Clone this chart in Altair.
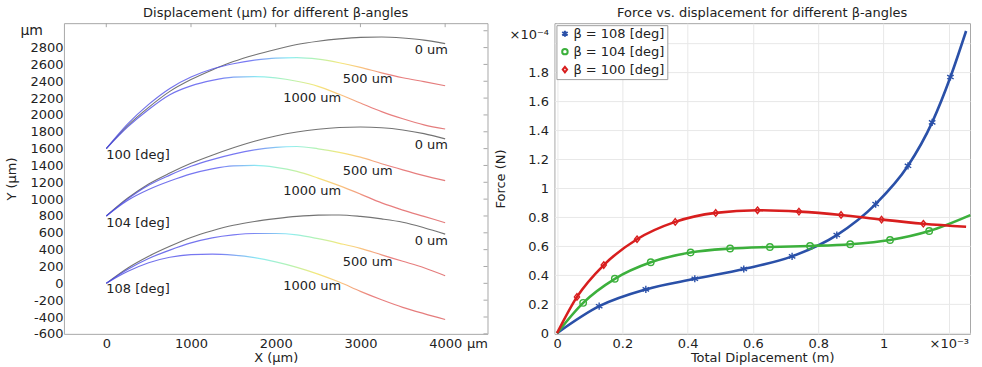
import altair as alt
import pandas as pd

FONT = "DejaVu Sans"
INK = "#222222"

# ---------------- Beam shapes (µm) for three beta angles and three displacements ----------------
X_UM = [0, 250, 500, 750, 1000, 1250, 1500, 1750, 2000, 2250, 2500, 2750, 3000, 3250, 3500, 3750, 4000]

B100_D0 = [1600, 1870, 2090, 2280, 2420, 2535, 2634, 2712, 2778, 2836, 2875, 2903, 2921, 2925, 2913, 2889, 2847]
B100_D500 = [1600, 1890, 2125, 2315, 2450, 2545, 2608, 2650, 2675, 2680, 2662, 2620, 2565, 2500, 2442, 2395, 2347]
B100_D1000 = [1600, 1855, 2065, 2240, 2345, 2410, 2448, 2456, 2440, 2400, 2340, 2245, 2142, 2040, 1955, 1882, 1833]

B104_D0 = [800, 1010, 1180, 1310, 1425, 1522, 1610, 1688, 1750, 1797, 1830, 1850, 1856, 1848, 1822, 1778, 1716]
B104_D500 = [800, 1000, 1165, 1285, 1390, 1470, 1535, 1585, 1615, 1625, 1598, 1555, 1498, 1420, 1348, 1280, 1220]
B104_D1000 = [800, 985, 1115, 1215, 1300, 1360, 1395, 1400, 1378, 1330, 1250, 1160, 1060, 955, 870, 795, 720]

B108_D0 = [0, 180, 322, 440, 545, 625, 690, 735, 768, 795, 810, 812, 795, 765, 725, 660, 584]
B108_D500 = [0, 165, 295, 395, 480, 540, 575, 592, 592, 575, 530, 475, 415, 338, 262, 185, 90]
B108_D1000 = [0, 140, 245, 310, 342, 348, 335, 305, 255, 190, 110, 15, -95, -195, -285, -360, -430]

SHAPES = {
    ("100", 0): B100_D0, ("100", 500): B100_D500, ("100", 1000): B100_D1000,
    ("104", 0): B104_D0, ("104", 500): B104_D500, ("104", 1000): B104_D1000,
    ("108", 0): B108_D0, ("108", 500): B108_D500, ("108", 1000): B108_D1000,
}

# curve annotations (data coordinates)
DISP_LABELS = ["0 um", "500 um", "1000 um"] * 3
DISP_LABEL_X = [3640, 2792, 2088] * 3
DISP_LABEL_Y = [2773, 2429, 2197, 1640, 1333, 1096, 504, 248, -36]
ANGLE_LABELS = ["100 [deg]", "104 [deg]", "108 [deg]"]
ANGLE_LABEL_Y = [1522, 722, -67]

# ---------------- Force vs displacement (x in 1e-3 m, y in 1e-4 N) ----------------
F108_X = [0.129, 0.272, 0.422, 0.572, 0.720, 0.857, 0.976, 1.075, 1.149, 1.205]
F108_Y = [0.186, 0.302, 0.375, 0.443, 0.530, 0.677, 0.891, 1.155, 1.455, 1.768]
F108_END = [1.253, 2.086]

F104_X = [0.080, 0.177, 0.287, 0.409, 0.530, 0.652, 0.775, 0.898, 1.020, 1.140]
F104_Y = [0.209, 0.375, 0.489, 0.557, 0.584, 0.595, 0.602, 0.614, 0.643, 0.705]
F104_END = [1.266, 0.815]

F100_X = [0.061, 0.143, 0.245, 0.362, 0.486, 0.614, 0.741, 0.870, 0.994, 1.122]
F100_Y = [0.250, 0.470, 0.648, 0.768, 0.830, 0.848, 0.839, 0.816, 0.784, 0.755]
F100_END = [1.253, 0.734]

SERIES = ["β = 108 [deg]", "β = 104 [deg]", "β = 100 [deg]"]
SERIES_COLORS = ["#2a50a8", "#3cb03c", "#d81e1e"]

# ---------------- Tables ----------------
rows = []
for (beta, disp), ys in SHAPES.items():
    for x, y in zip(X_UM, ys):
        rows.append({"x": x, "y": y, "beta": beta, "disp": disp})
shape_df = pd.DataFrame(rows)

disp_lbl_df = pd.DataFrame({"x": DISP_LABEL_X, "y": DISP_LABEL_Y, "t": DISP_LABELS})
angle_lbl_df = pd.DataFrame({"x": [0] * 3, "y": ANGLE_LABEL_Y, "t": ANGLE_LABELS})
unit_df = pd.DataFrame({"x": [-500], "y": [3000], "t": ["μm"]})
top_ticks_df = pd.DataFrame({"x": [0, 1000, 2000, 3000, 4000]})
right_ticks_df = pd.DataFrame({"y": list(range(-600, 3001, 200))})

line_rows, mark_rows = [], []
for name, xs, ys, end in [
    (SERIES[0], F108_X, F108_Y, F108_END),
    (SERIES[1], F104_X, F104_Y, F104_END),
    (SERIES[2], F100_X, F100_Y, F100_END),
]:
    line_rows.append({"x": 0.0, "y": 0.0, "s": name})
    for x, y in zip(xs, ys):
        line_rows.append({"x": x, "y": y, "s": name})
        mark_rows.append({"x": x, "y": y, "s": name})
    line_rows.append({"x": end[0], "y": end[1], "s": name})
force_line_df = pd.DataFrame(line_rows)
force_mark_df = pd.DataFrame(mark_rows)

# ---------------- Left panel: deformed beam shapes ----------------
LW, LH = 424, 311

xL = alt.X(
    "x:Q",
    scale=alt.Scale(domain=[-500, 4500], nice=False, zero=False),
    axis=alt.Axis(
        title="X (μm)",
        values=[0, 1000, 2000, 3000, 4000, 4500],
        labelExpr="datum.value == 4500 ? 'μm' : '' + datum.value",
        labelAlign={"condition": {"test": "datum.value == 4500", "value": "right"}, "value": "center"},
        grid=False,
        labelPadding=4,
        titlePadding=1,
    ),
)
yL = alt.Y(
    "y:Q",
    scale=alt.Scale(domain=[-600, 3090], nice=False, zero=False),
    axis=alt.Axis(
        title="Y (μm)",
        values=list(range(-600, 3001, 200)),
        labelExpr="datum.value == 3000 ? '' : '' + datum.value",
        grid=False,
        labelPadding=1,
        titlePadding=11,
    ),
)


def rainbow(stops):
    return alt.Gradient(
        gradient="linear",
        stops=[alt.GradientStop(color=c, offset=o) for o, c in stops],
        x1=0, x2=1, y1=0, y2=0,
    )


RAIN_500 = rainbow([
    (0.0, "#4848e0"), (0.42, "#5858f0"), (0.54, "#70e8f0"), (0.62, "#a0f0a0"),
    (0.69, "#f2e25a"), (0.76, "#f8b060"), (0.84, "#e46060"), (1.0, "#dc5a5a"),
])
RAIN_1000 = rainbow([
    (0.0, "#4848e0"), (0.33, "#5858f0"), (0.45, "#70e8f0"), (0.54, "#a0f0a0"),
    (0.62, "#f2e25a"), (0.70, "#f8b060"), (0.78, "#e46060"), (1.0, "#dc5a5a"),
])

base_shape = alt.Chart(shape_df)
gray_lines = base_shape.transform_filter("datum.disp == 0").mark_line(
    color="#5a5a5a", strokeWidth=1.1, opacity=0.85, interpolate="monotone"
).encode(x=xL, y=yL, detail="beta:N")
lines_500 = base_shape.transform_filter("datum.disp == 500").mark_line(
    color=RAIN_500, strokeWidth=1.2, opacity=0.8, interpolate="monotone"
).encode(x=xL, y=yL, detail="beta:N")
lines_1000 = base_shape.transform_filter("datum.disp == 1000").mark_line(
    color=RAIN_1000, strokeWidth=1.2, opacity=0.8, interpolate="monotone"
).encode(x=xL, y=yL, detail="beta:N")

disp_text = alt.Chart(disp_lbl_df).mark_text(
    align="left", baseline="middle", font=FONT, fontSize=13, color=INK
).encode(x=xL, y=yL, text="t:N")
angle_text = alt.Chart(angle_lbl_df).mark_text(
    align="left", baseline="middle", font=FONT, fontSize=13, color=INK
).encode(x=xL, y=yL, text="t:N")
unit_text = alt.Chart(unit_df).mark_text(
    align="right", baseline="middle", dx=-21, font=FONT, fontSize=14, color=INK
).encode(x=xL, y=yL, text="t:N")

top_ticks = alt.Chart(top_ticks_df).mark_rule(color="#a8a8a8").encode(
    x=xL, y=alt.value(0), y2=alt.value(4)
)
right_ticks = alt.Chart(right_ticks_df).mark_rule(color="#a8a8a8").encode(
    y=yL, x=alt.value(LW), x2=alt.value(LW - 4)
)

left = alt.layer(
    top_ticks, right_ticks, gray_lines, lines_500, lines_1000, disp_text, angle_text, unit_text
).properties(
    width=LW, height=LH,
    title="Displacement (μm) for different β-angles",
)

# ---------------- Right panel: force vs displacement ----------------
RW, RH = 416, 311

xR = alt.X(
    "x:Q",
    scale=alt.Scale(domain=[-0.008, 1.265], nice=False, zero=False),
    axis=alt.Axis(
        title="Total Diplacement (m)",
        values=[0, 0.2, 0.4, 0.6, 0.8, 1, 1.2],
        labelExpr="datum.value > 1.1 ? '×10⁻³' : '' + datum.value",
        grid=True,
        gridColor="#e8e8e8",
        labelPadding=4,
        titlePadding=1,
    ),
)
yR = alt.Y(
    "y:Q",
    scale=alt.Scale(domain=[-0.005, 2.14], nice=False, zero=False),
    axis=alt.Axis(
        title="Force (N)",
        values=[0, 0.2, 0.4, 0.6, 0.8, 1, 1.2, 1.4, 1.6, 1.8, 2],
        labelExpr="datum.value > 1.9 ? '×10⁻⁴' : '' + datum.value",
        labelOffset={"condition": {"test": "datum.value > 1.9", "value": -9}, "value": 0},
        grid=True,
        gridColor="#e8e8e8",
        labelPadding=6,
        titlePadding=1,
    ),
)

color_scale = alt.Scale(domain=SERIES, range=SERIES_COLORS)
ASTERISK = "M-1,-0.6L1,0.6M-1,0.6L1,-0.6M0,-1.1L0,1.1"
DIAMOND = "M0,-1L0.8,0L0,1L-0.8,0Z"
shape_scale = alt.Scale(domain=SERIES, range=[ASTERISK, "circle", DIAMOND])
LEGEND_SYMBOL = "M-1,0L1,0M-0.35,0A0.35,0.35,0,1,1,0.35,0A0.35,0.35,0,1,1,-0.35,0"

force_lines = alt.Chart(force_line_df).mark_line(
    strokeWidth=2.6, interpolate="monotone"
).encode(
    x=xR, y=yR,
    color=alt.Color(
        "s:N", scale=color_scale, sort=SERIES,
        legend=alt.Legend(
            title=None, orient="top-left", offset=2,
            fillColor="white", strokeColor="#a0a0a0", padding=2,
            labelFont=FONT, labelFontSize=13, labelColor=INK,
            symbolType=LEGEND_SYMBOL, symbolSize=30, symbolStrokeWidth=2,
            labelOffset=2, rowPadding=3, cornerRadius=0,
        ),
    ),
    order="x:Q",
)
force_marks = alt.Chart(force_mark_df).mark_point(
    filled=False, strokeWidth=1.4, size=42, opacity=1
).encode(
    x=xR, y=yR,
    color=alt.Color("s:N", scale=color_scale, sort=SERIES, legend=None),
    shape=alt.Shape("s:N", scale=shape_scale, legend=None),
)

right = alt.layer(force_lines, force_marks).properties(
    width=RW, height=RH,
    title="Force vs. displacement for different β-angles",
)

chart = (
    alt.hconcat(left, right, spacing=5)
    .resolve_legend(color="independent", shape="independent")
    .resolve_scale(color="independent", shape="independent")
    .properties(padding={"left": 5, "top": 6, "right": 5, "bottom": 0})
    .configure(font=FONT)
    .configure_view(stroke="#a8a8a8", strokeWidth=1)
    .configure_axis(
        labelFont=FONT, titleFont=FONT, labelFontSize=13, titleFontSize=13,
        titleFontWeight="normal", labelColor=INK, titleColor=INK,
        domain=False, ticks=False,
    )
    .configure_title(font=FONT, fontSize=13, fontWeight="normal", color=INK, offset=3)
)

chart.save("out.html", embed_options={"renderer": "svg", "actions": False})
